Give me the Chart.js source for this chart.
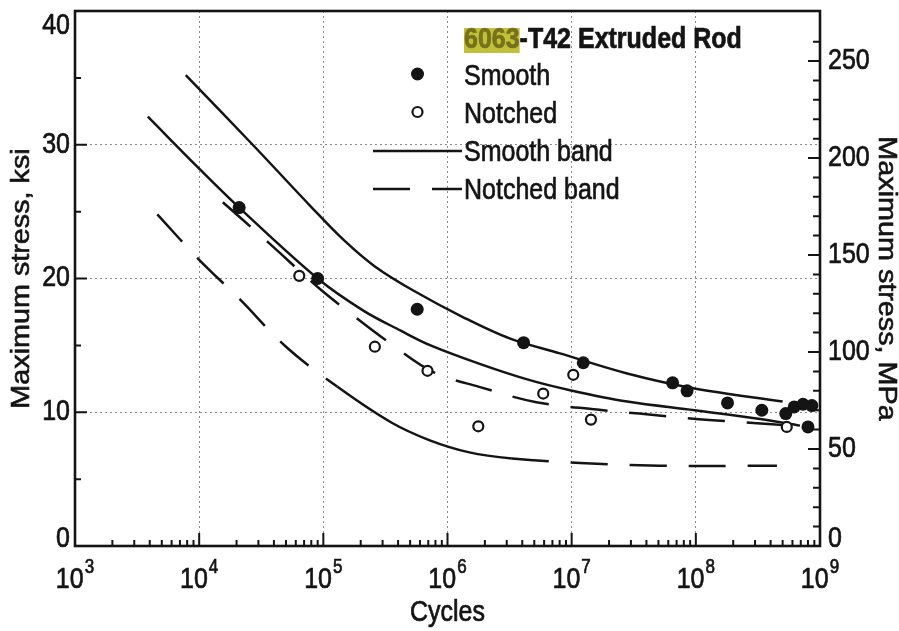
<!DOCTYPE html>
<html>
<head>
<meta charset="utf-8">
<title>6063-T42 Extruded Rod</title>
<script src="https://cdn.jsdelivr.net/npm/chart.js@4/dist/chart.umd.min.js"></script>
<style>
  html, body { margin: 0; padding: 0; background: #fff; }
  #wrap { width: 899px; height: 631px; }
</style>
</head>
<body>
<div id="wrap"><canvas id="snChart" width="899" height="631"></canvas></div>
<script>
// Fatigue data, stress in ksi against life in cycles
const smoothCycles  = [2.1e4, 9.0e4, 5.7e5, 4.1e6, 1.24e7, 6.5e7, 8.5e7, 1.8e8, 3.4e8, 5.3e8, 6.2e8, 7.3e8, 8.6e8, 8.0e8];
const smoothStress  = [25.3, 20.0, 17.7, 15.2, 13.7, 12.2, 11.6, 10.7, 10.15, 9.9, 10.4, 10.6, 10.5, 8.9];
const notchedCycles = [6.4e4, 2.6e5, 6.9e5, 1.77e6, 5.9e6, 1.03e7, 1.43e7, 5.4e8];
const notchedStress = [20.2, 14.9, 13.1, 8.95, 11.4, 12.8, 9.45, 8.9];

// scatter bands
const smoothUpperCycles = [7.8e3, 2.7e4, 7.9e4, 1.45e5, 2.6e5, 5.3e5, 1.34e6, 3.2e6, 8.05e6, 2.8e7, 9.5e7, 5.0e8];
const smoothUpperStress = [35.2, 30.0, 25.4, 22.9, 20.9, 19.1, 17.1, 15.5, 14.4, 12.9, 11.8, 10.8];
const smoothLowerCycles = [3.86e3, 1.03e4, 2.1e4, 9.0e4, 2.1e5, 4.2e5, 7.3e5, 1.84e6, 4.6e6, 9.7e6, 2.8e7, 9.8e7, 3.3e8, 6.9e8];
const smoothLowerStress = [32.1, 28.1, 25.3, 20.0, 17.6, 16.1, 15.0, 13.6, 12.4, 11.65, 10.8, 10.15, 9.5, 9.0];
const notchedUpperCycles = [1.55e4, 3.6e4, 8.9e4, 1.55e5, 3.4e5, 7.7e5, 1.8e6, 5.2e6, 1.6e7, 3.5e7, 1.0e8, 2.9e8, 5.8e8];
const notchedUpperStress = [25.7, 22.7, 19.4, 17.6, 15.2, 13.0, 11.9, 10.75, 10.2, 9.9, 9.5, 9.2, 9.0];
const notchedLowerCycles = [4.6e3, 1.0e4, 2.1e4, 5.0e4, 1.3e5, 3.5e5, 7.2e5, 1.5e6, 3.3e6, 1.17e7, 5.1e7, 4.5e8];
const notchedLowerStress = [24.8, 21.4, 18.5, 14.9, 11.9, 9.25, 7.9, 7.0, 6.55, 6.2, 6.0, 6.0];

// axis labels
const cycleDecades = [1e3, 1e4, 1e5, 1e6, 1e7, 1e8, 1e9];
const ksiLabels = [0, 10, 20, 30, 40];
const mpaLabels = [0, 50, 100, 150, 200, 250];

const KSI_TO_MPA = 6.894757;
const FONT = "'Liberation Sans', Arial, Helvetica, sans-serif";
const INK = '#141414';
const GRID = '#8c8c8c';
const BAND_DASH = [37, 22];
const TALL = 1.15;   // type is set slightly tall and narrow

function pts(xs, ys) {
  return xs.map((x, i) => ({ x: x, y: ys[i] }));
}

function isDecade(v) {
  const e = Math.log10(v);
  return Math.abs(e - Math.round(e)) < 1e-9;
}

// heavy text stretched along the vertical of the page
function tallText(ctx, text, x, y, rotation) {
  ctx.save();
  ctx.translate(x, y);
  if (rotation) {
    ctx.rotate(rotation);
    ctx.scale(TALL, 1);
  } else {
    ctx.scale(1, TALL);
  }
  ctx.fillText(text, 0, 0);
  ctx.strokeStyle = ctx.fillStyle;
  ctx.lineWidth = 0.6;
  ctx.strokeText(text, 0, 0);
  ctx.restore();
}

// minor ticks 1..9 in each decade of the cycles axis
const cycleTicks = [];
cycleDecades.forEach((d, i) => {
  const last = i === cycleDecades.length - 1;
  for (let s = 1; s <= (last ? 1 : 9); s++) cycleTicks.push(d * s);
});

// frame, inward tick marks, tick labels and axis titles
const framePlugin = {
  id: 'frame',
  afterDatasetsDraw(chart) {
    const { ctx, chartArea: a, scales } = chart;
    ctx.save();
    ctx.strokeStyle = INK;
    ctx.lineWidth = 2;
    ctx.beginPath();
    scales.x.ticks.forEach(t => {
      const px = scales.x.getPixelForValue(t.value);
      const len = isDecade(t.value) ? 13 : 6;
      ctx.moveTo(px, a.bottom);
      ctx.lineTo(px, a.bottom - len);
    });
    scales.y.ticks.forEach(t => {
      const py = scales.y.getPixelForValue(t.value);
      const len = t.value % 10 === 0 ? 12 : 6;
      ctx.moveTo(a.left, py);
      ctx.lineTo(a.left + len, py);
    });
    scales.y2.ticks.forEach(t => {
      if (t.value % 10 !== 0) return;
      const py = scales.y2.getPixelForValue(t.value);
      const len = t.value % 50 === 0 ? 12 : 7;
      ctx.moveTo(a.right, py);
      ctx.lineTo(a.right - len, py);
    });
    ctx.stroke();

    ctx.lineWidth = 2.6;
    ctx.strokeRect(a.left, a.top, a.right - a.left, a.bottom - a.top);

    ctx.fillStyle = INK;
    ctx.textBaseline = 'middle';

    // powers of ten under the cycles axis
    ctx.textAlign = 'left';
    cycleDecades.forEach(v => {
      const px = scales.x.getPixelForValue(v);
      const exp = String(Math.round(Math.log10(v)));
      ctx.font = '25px ' + FONT;
      const wBase = ctx.measureText('10').width;
      ctx.font = '17px ' + FONT;
      const wExp = ctx.measureText(exp).width;
      const x0 = px - (wBase + wExp + 1) / 2;
      ctx.font = '25px ' + FONT;
      tallText(ctx, '10', x0, a.bottom + 34);
      ctx.font = '17px ' + FONT;
      tallText(ctx, exp, x0 + wBase + 1, a.bottom + 22);
    });

    // stress labels, kept inside the frame at the ends
    ctx.font = '25px ' + FONT;
    ctx.textAlign = 'right';
    ksiLabels.forEach(v => {
      const py = scales.y.getPixelForValue(v);
      tallText(ctx, String(v), a.left - 5, Math.min(Math.max(py, a.top + 15), a.bottom - 7));
    });
    ctx.textAlign = 'left';
    mpaLabels.forEach(v => {
      const py = scales.y2.getPixelForValue(v);
      tallText(ctx, String(v), a.right + 8, Math.min(py, a.bottom - 7));
    });

    // axis titles
    const midY = (a.top + a.bottom) / 2;
    ctx.textAlign = 'center';
    tallText(ctx, 'Cycles', (a.left + a.right) / 2, 613);
    tallText(ctx, 'Maximum stress, ksi', 22, midY, -Math.PI / 2);
    tallText(ctx, 'Maximum stress, MPa', 886, midY, Math.PI / 2);
    ctx.restore();
  }
};

// key set inside the plot
const keyRows = [
  { ds: 0, y: 77 },
  { ds: 1, y: 115 },
  { ds: 2, y: 153 },
  { ds: 4, y: 191 }
];
const keyPlugin = {
  id: 'key',
  afterDraw(chart) {
    const { ctx } = chart;
    const x0 = 373, x1 = 462, tx = 464;
    ctx.save();
    ctx.textBaseline = 'middle';
    ctx.textAlign = 'left';

    ctx.font = 'bold 25px ' + FONT;
    const alloy = '6063';
    const aw = ctx.measureText(alloy).width;
    ctx.fillStyle = '#c2bf3a';
    ctx.fillRect(tx, 28, aw, 25);
    ctx.fillStyle = '#75721b';
    tallText(ctx, alloy, tx, 40);
    ctx.fillStyle = INK;
    tallText(ctx, '-T42 Extruded Rod', tx + aw, 40);

    ctx.font = '25px ' + FONT;
    keyRows.forEach(row => {
      const ds = chart.data.datasets[row.ds];
      const cx = (x0 + x1) / 2;
      if (ds.showLine) {
        ctx.strokeStyle = ds.borderColor;
        ctx.lineWidth = ds.borderWidth;
        ctx.setLineDash(ds.borderDash || []);
        ctx.beginPath();
        ctx.moveTo(x0, row.y - 2);
        ctx.lineTo(x1, row.y - 2);
        ctx.stroke();
        ctx.setLineDash([]);
      } else {
        ctx.beginPath();
        ctx.arc(cx, row.y - 3, ds.pointRadius, 0, Math.PI * 2);
        ctx.fillStyle = ds.backgroundColor;
        ctx.fill();
        if (ds.borderWidth) {
          ctx.strokeStyle = ds.borderColor;
          ctx.lineWidth = ds.borderWidth;
          ctx.stroke();
        }
      }
      ctx.fillStyle = INK;
      tallText(ctx, ds.label, tx, row.y);
    });
    ctx.restore();
  }
};

function bandSet(label, xs, ys, dash, solidFrom, solidTo) {
  return {
    label: label,
    data: pts(xs, ys),
    showLine: true,
    borderColor: INK,
    borderWidth: 2.5,
    borderDash: dash,
    pointRadius: 0,
    tension: 0.35,
    clip: false,
    segment: {
      // one long unbroken stroke along part of the lower notched band
      borderDash: c => (solidFrom && c.p0.parsed.x >= solidFrom && c.p1.parsed.x <= solidTo) ? [] : undefined
    }
  };
}

new Chart(document.getElementById('snChart').getContext('2d'), {
  type: 'scatter',
  data: {
    datasets: [
      {
        label: 'Smooth',
        data: pts(smoothCycles, smoothStress),
        pointRadius: 6.5,
        backgroundColor: INK,
        borderColor: INK,
        borderWidth: 0,
        clip: false
      },
      {
        label: 'Notched',
        data: pts(notchedCycles, notchedStress),
        pointRadius: 5,
        backgroundColor: '#ffffff',
        borderColor: INK,
        borderWidth: 2.2,
        clip: false
      },
      bandSet('Smooth band', smoothUpperCycles, smoothUpperStress, []),
      bandSet('Smooth band', smoothLowerCycles, smoothLowerStress, []),
      bandSet('Notched band', notchedUpperCycles, notchedUpperStress, BAND_DASH),
      bandSet('Notched band', notchedLowerCycles, notchedLowerStress, BAND_DASH, 1.3e5, 3.3e6)
    ]
  },
  options: {
    responsive: false,
    animation: false,
    devicePixelRatio: 1,
    layout: { padding: { top: 11, left: 0, right: 0, bottom: 0 } },
    plugins: { legend: { display: false }, tooltip: { enabled: false } },
    scales: {
      x: {
        type: 'logarithmic',
        position: 'bottom',
        min: 1e3,
        max: 1e9,
        afterBuildTicks: s => { s.ticks = cycleTicks.map(v => ({ value: v })); },
        afterFit: s => { s.height = 85; },
        ticks: { display: false },
        grid: {
          drawTicks: false,
          lineWidth: 1,
          color: c => (c.tick && isDecade(c.tick.value) && c.tick.value > 1e3 && c.tick.value < 1e9) ? GRID : 'rgba(0,0,0,0)'
        },
        border: { display: false, dash: [2, 3] }
      },
      y: {
        type: 'linear',
        position: 'left',
        min: 0,
        max: 40,
        afterFit: s => { s.width = 75; },
        ticks: { display: false, stepSize: 5 },
        grid: {
          drawTicks: false,
          lineWidth: 1,
          color: c => (c.tick && c.tick.value % 10 === 0 && c.tick.value > 0 && c.tick.value < 40) ? GRID : 'rgba(0,0,0,0)'
        },
        border: { display: false, dash: [2, 3] }
      },
      y2: {
        type: 'linear',
        position: 'right',
        min: 0,
        max: 40 * KSI_TO_MPA,
        afterFit: s => { s.width = 79; },
        ticks: { display: false, stepSize: 10 },
        grid: { drawOnChartArea: false, drawTicks: false },
        border: { display: false }
      }
    }
  },
  plugins: [framePlugin, keyPlugin]
});
</script>
</body>
</html>
